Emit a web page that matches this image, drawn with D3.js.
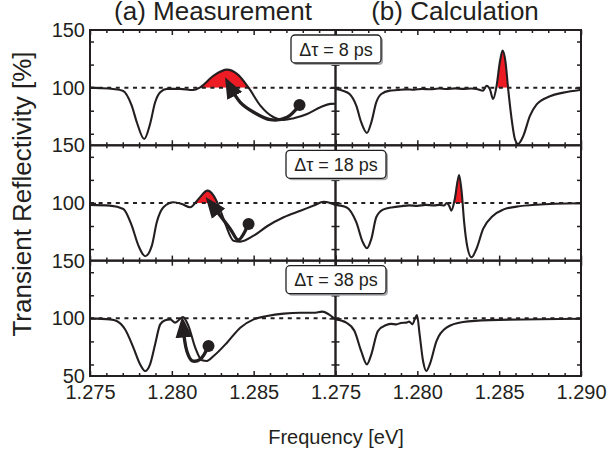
<!DOCTYPE html>
<html><head><meta charset="utf-8">
<script src="https://cdn.jsdelivr.net/npm/d3@7"></script>
<style>
body{margin:0;background:#fff}
svg{display:block}
text{font-family:"Liberation Sans",Arial,Helvetica,sans-serif;fill:#231f20}
</style>
</head><body>
<svg id="c" width="608" height="452"></svg>
<script>
// ---------------- data ----------------
const delays = ["8", "18", "38"];
const panelTitles = ["(a) Measurement", "(b) Calculation"];
const xMajor = [1.275, 1.280, 1.285, 1.290];
const xMinor = [1.276,1.277,1.278,1.279,1.281,1.282,1.283,1.284,1.286,1.287,1.288,1.289];
const yMinor = [60, 80, 120, 140];
const yMajor = [100];

// measurement, 8 ps
const measE8 = [1.2750,1.2756,1.2764,1.2770,1.27755,1.27786,1.27831,1.27867,1.27898,1.27929,1.2797,1.2805,1.2813,1.28173,1.28255,1.28337,1.28398,1.28469,1.28541,1.28622,1.28683,1.28745,1.28827,1.28908,1.28969,1.2900];
const measR8 = [100,99.6,98.8,97.4,84.4,70,55.5,68.5,87.3,96,98.9,98.9,98.0,100.3,110.4,115.6,111.9,100,84.4,74.3,72,73.5,77.2,83,85.9,86];
// measurement, 18 ps
const measE18 = [1.2750,1.27622,1.27704,1.27755,1.27796,1.27837,1.27878,1.27908,1.27949,1.2801,1.28061,1.28112,1.28163,1.28218,1.28255,1.28286,1.28327,1.28377,1.28418,1.2850,1.28582,1.28683,1.28786,1.28867,1.28928,1.28969,1.2900];
const measR18 = [98.3,97.7,94.8,80.3,63,53.8,63,83.3,96.3,100.6,99.1,96.3,103.5,110.7,106.4,97.7,81.8,67.3,66.5,71.6,79.8,87.6,93.3,97.7,101.1,100,98.3];
// measurement, 38 ps
const measE38 = [1.2750,1.27622,1.27663,1.27714,1.27765,1.27806,1.27837,1.27867,1.27898,1.27929,1.27959,1.2799,1.2802,1.28068,1.28102,1.28143,1.28184,1.28214,1.28255,1.28337,1.28418,1.2850,1.28582,1.28683,1.28786,1.28867,1.28919,1.28959,1.2900];
const measR38 = [100,99.1,97.7,90.5,74.6,60.1,54.3,60.1,77.5,94.8,98.3,99.1,96.3,101.1,93.3,74.6,63.6,63,67.3,78.9,91.9,99.1,102,104.1,104.9,104.9,105.8,103.5,99.1];

// calculation, 8 ps
const calcE8 = [1.2750,1.27545,1.27586,1.27627,1.27657,1.27692,1.27719,1.27749,1.2778,1.27831,1.2788,1.2793,1.2798,1.2803,1.2808,1.2813,1.2818,1.2823,1.2828,1.2833,1.28361,1.28402,1.28423,1.28443,1.28463,1.28484,1.28504,1.28521,1.28539,1.28555,1.28576,1.28596,1.28616,1.28647,1.28688,1.28729,1.2881,1.28892,1.28994,1.2900];
const calcR8 = [98.9,97.4,94.5,84.4,70,60.7,70,87.3,94.5,97.4,97.9,98.5,98.2,98.9,98.6,99.2,98.8,99.4,98.9,99.3,98.9,97.4,101.7,98.9,90.2,101.2,122,132.1,122,98.9,72.9,55.5,51.2,58,75.5,85.5,92.5,95.7,98,98.1];
// calculation, 18 ps
const calcE18 = [1.2750,1.27566,1.27627,1.27667,1.27692,1.27719,1.27749,1.2779,1.27851,1.2790,1.2795,1.2800,1.2805,1.2810,1.28137,1.28165,1.28178,1.28194,1.28208,1.28229,1.28255,1.28271,1.28286,1.28304,1.28331,1.28361,1.28402,1.28463,1.28524,1.28606,1.28729,1.2900];
const calcR18 = [98.3,96.3,83.3,65.9,60.7,68.8,87.6,94.2,96.3,97.2,97.9,97.5,98.3,97.9,98.3,97.8,100,97.7,93.3,103.5,124.3,109.3,83.3,63,52.9,60.1,77.5,89,94.2,96.8,98.5,99.7];
// calculation, 38 ps
const calcE38 = [1.2750,1.27566,1.27616,1.27657,1.27692,1.27719,1.27759,1.2781,1.2784,1.27872,1.2790,1.27933,1.2795,1.2797,1.27984,1.27998,1.28014,1.28035,1.28055,1.28076,1.28117,1.28178,1.28279,1.28443,1.2900];
const calcR38 = [99.1,96.3,89,71.6,60.1,68.8,89,94.2,95.2,94.8,96,96.3,97.2,94.8,99.1,102.9,86.1,63,54.3,60.1,80.3,91.9,96.8,98.5,99.7];

// arrows (measurement panels): start dot -> arrow tip
const arrowE8 = [1.2878,1.28704,1.28602,1.2850,1.28418,1.28342];
const arrowR8 = [85,74.3,72.2,78.7,87.3,104.4];
const arrowE18 = [1.28469,1.28406,1.28357,1.28229];
const arrowR18 = [81.8,67.9,77.5,101];
const arrowE38 = [1.28224,1.28173,1.28123,1.28092,1.28066];
const arrowR38 = [76,64.5,63.3,71.4,96.4];

// energy ranges of the red (above 100 %) fills
const fillMeas = [[1.2815,1.2850],[1.2815,1.2830],[1.2805,1.2810]];
const fillCalc = [[1.2849,1.2856],[1.2822,1.2829],[1.2799,1.2801]];

// ---------------- layout ----------------
const svg = d3.select("#c");
const INK = "#231f20", RED = "#ed1c24";
const X0 = 90, XM = 335.5, X1 = 581;
const rowTops = [30, 145.3, 260.7], H = 115.3;
const xL = d3.scaleLinear().domain([1.275, 1.290]).range([X0, XM]);
const xR = d3.scaleLinear().domain([1.275, 1.290]).range([XM, X1]);

const rows = [
  {meas: [measE8, measR8], calc: [calcE8, calcR8], arrow: [arrowE8, arrowR8]},
  {meas: [measE18, measR18], calc: [calcE18, calcR18], arrow: [arrowE18, arrowR18]},
  {meas: [measE38, measR38], calc: [calcE38, calcR38], arrow: [arrowE38, arrowR38]}
];

const defs = svg.append("defs");
defs.append("marker").attr("id","ah").attr("markerUnits","userSpaceOnUse")
  .attr("viewBox","0 -10 22 20").attr("markerWidth",22).attr("markerHeight",20)
  .attr("refX",15).attr("refY",0).attr("orient","auto")
  .append("path").attr("d","M0,-8.5L21,0L0,8.5Z").attr("fill",INK);

rows.forEach((row, i) => {
  const top = rowTops[i];
  const y = d3.scaleLinear().domain([50, 150]).range([top + H, top]);
  const g = svg.append("g");

  [[xL, row.meas, fillMeas[i]], [xR, row.calc, fillCalc[i]]].forEach(([x, [E, R], fr], k) => {
    const pts = E.map((e, j) => [e, R[j]]);
    const cid = `clip${i}_${k}`;
    defs.append("clipPath").attr("id", cid).append("rect")
      .attr("x", x(fr[0])).attr("width", x(fr[1]) - x(fr[0]))
      .attr("y", top).attr("height", y(100) - top);
    g.append("path").datum(pts)
      .attr("clip-path", `url(#${cid})`)
      .attr("fill", RED)
      .attr("d", d3.area().x(d => x(d[0])).y0(y(100)).y1(d => y(d[1])).curve(d3.curveMonotoneX));
    // dotted 100 % line
    g.append("line").attr("x1", x.range()[0]).attr("x2", x.range()[1])
      .attr("y1", y(100)).attr("y2", y(100))
      .attr("stroke", INK).attr("stroke-width", 2).attr("stroke-dasharray", "4,4.6");
    g.append("path").datum(pts).attr("fill", "none").attr("stroke", INK)
      .attr("stroke-width", 2.1).attr("stroke-linejoin","round")
      .attr("d", d3.line().x(d => x(d[0])).y(d => y(d[1])).curve(d3.curveMonotoneX));
  });

  // arrow in measurement panel
  const [aE, aR] = row.arrow;
  const ap = aE.map((e, j) => [e, aR[j]]);
  g.append("path").datum(ap).attr("fill","none").attr("stroke",INK)
    .attr("stroke-width",3.3).attr("marker-end","url(#ah)")
    .attr("d", d3.line().x(d => xL(d[0])).y(d => y(d[1])).curve(d3.curveCatmullRom.alpha(0.5)));
  g.append("circle").attr("cx", xL(aE[0])).attr("cy", y(aR[0])).attr("r", 6).attr("fill", INK);

  // frame
  g.append("rect").attr("x", X0).attr("y", top).attr("width", X1 - X0).attr("height", H)
    .attr("fill","none").attr("stroke",INK).attr("stroke-width",2);
  g.append("line").attr("x1", XM).attr("x2", XM).attr("y1", top).attr("y2", top + H)
    .attr("stroke",INK).attr("stroke-width",2.4);

  // x ticks (inward) on top and bottom, both panels
  [xL, xR].forEach((x, k) => {
    const last = i === 2;
    const labVals = k === 0 ? [1.275, 1.280, 1.285] : xMajor;
    const bot = g.append("g").attr("transform", `translate(0,${top + H})`)
      .call(d3.axisBottom(x).tickValues(last ? labVals : xMajor).tickSizeInner(-5).tickSizeOuter(0)
        .tickPadding(9).tickFormat(last ? d3.format(".3f") : ""));
    g.append("g").attr("transform", `translate(0,${top + H})`)
      .call(d3.axisBottom(x).tickValues(xMinor).tickSizeInner(-3).tickSizeOuter(0).tickFormat(""));
    g.append("g").attr("transform", `translate(0,${top})`)
      .call(d3.axisTop(x).tickValues(xMajor).tickSizeInner(-5).tickSizeOuter(0).tickFormat(""));
    g.append("g").attr("transform", `translate(0,${top})`)
      .call(d3.axisTop(x).tickValues(xMinor).tickSizeInner(-3).tickSizeOuter(0).tickFormat(""));
    bot.selectAll("text").attr("font-size", 20);
  });

  // y ticks (inward) on all vertical edges
  const yl = g.append("g").attr("transform", `translate(${X0},0)`)
    .call(d3.axisLeft(y).tickValues(i === 2 ? [50, 100, 150] : [100, 150]).tickSize(0).tickPadding(5));
  yl.selectAll("text").attr("font-size", 20);
  [[X0, d3.axisLeft], [XM, d3.axisLeft], [XM, d3.axisRight], [X1, d3.axisRight]].forEach(([px, ax]) => {
    g.append("g").attr("transform", `translate(${px},0)`)
      .call(ax(y).tickValues(yMinor).tickSizeInner(-4).tickSizeOuter(0).tickFormat(""));
    g.append("g").attr("transform", `translate(${px},0)`)
      .call(ax(y).tickValues(yMajor).tickSizeInner(-6).tickSizeOuter(0).tickFormat(""));
  });

  // delay label box
  const bw = i === 0 ? 90 : 100, bh = 28, bx = 336 - bw / 2, by = top + 5;
  g.append("rect").attr("x", bx + 2).attr("y", by + 2).attr("width", bw).attr("height", bh)
    .attr("rx", 4).attr("fill", "#a7a9ac");
  g.append("rect").attr("x", bx).attr("y", by).attr("width", bw).attr("height", bh)
    .attr("rx", 4).attr("fill", "#fff").attr("stroke", INK).attr("stroke-width", 1.3);
  g.append("text").attr("x", 336).attr("y", by + 20.5).attr("text-anchor", "middle")
    .attr("font-size", 18).text(`Δτ = ${delays[i]} ps`);
});

svg.selectAll(".domain").remove();
svg.selectAll(".tick line").attr("stroke", INK).attr("stroke-width", 1.5);
svg.selectAll(".tick text").attr("fill", INK);

// titles and axis labels
svg.append("text").attr("x", 213).attr("y", 20).attr("text-anchor","middle")
  .attr("font-size", 26).text(panelTitles[0]);
svg.append("text").attr("x", 455).attr("y", 20).attr("text-anchor","middle")
  .attr("font-size", 26).text(panelTitles[1]);
svg.append("text").attr("x", 336).attr("y", 444).attr("text-anchor","middle")
  .attr("font-size", 20).text("Frequency [eV]");
svg.append("text").attr("transform","translate(31,194) rotate(-90)").attr("text-anchor","middle")
  .attr("font-size", 26).text("Transient Reflectivity [%]");
</script>
</body></html>
